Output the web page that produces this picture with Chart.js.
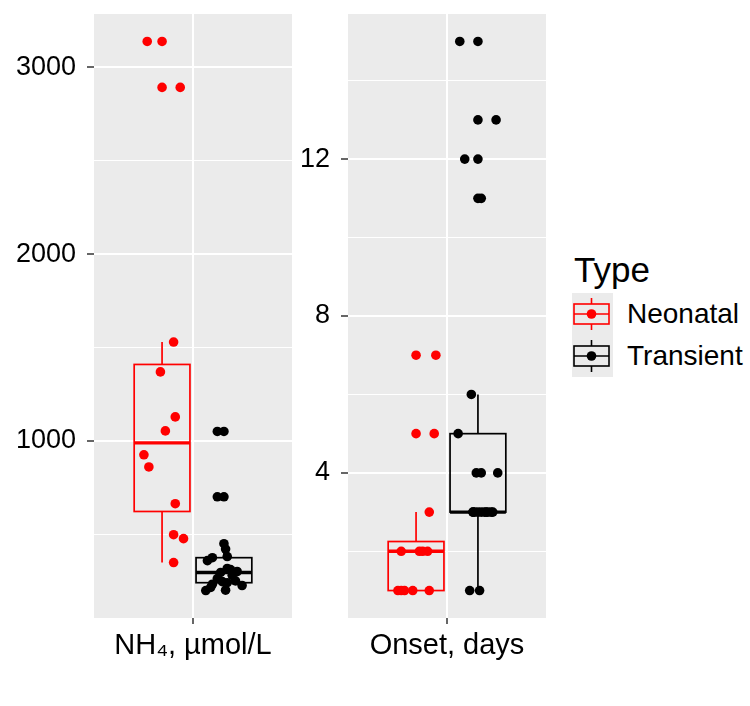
<!DOCTYPE html>
<html lang="en">
<head>
<meta charset="UTF-8">
<title>NH4 and onset by type</title>
<script src="https://cdn.jsdelivr.net/npm/chart.js"></script>
<style>
  html, body { margin: 0; padding: 0; background: #fff; }
  body { width: 750px; height: 706px; position: relative; overflow: hidden;
         font-family: "Liberation Sans", Arial, sans-serif; }
  #leftChart { position: absolute; left: 0; top: 0; }
  #rightChart { position: absolute; left: 300px; top: 0; }
  .legend { position: absolute; left: 572px; top: 252px; color: #000; }
  .legend-title { font-size: 35px; line-height: 1; margin: 0 0 6px 2px; }
  .legend-row { display: flex; align-items: center; height: 42px; }
  .legend-key { width: 41px; height: 42px; background: #EBEBEB; }
  .legend-label { font-size: 28px; margin-left: 14px; }
</style>
</head>
<body>
<canvas id="leftChart" width="300" height="706"></canvas>
<canvas id="rightChart" width="260" height="706"></canvas>
<div class="legend" id="legend"></div>

<script>
// groups
const types = ['Neonatal', 'Transient'];
const typeColors = ['#FF0000', '#000000'];

// NH4, µmol/L
const nh4Neonatal = [3139, 2893, 1529, 1369, 1128, 1053, 925, 860, 663, 497, 476, 348];
const nh4Transient = [1050, 700, 449, 420, 380, 374, 358, 316, 310, 300, 295, 280, 262, 250, 246, 240, 232, 225, 215, 200, 198];

// Onset, days
const onsetNeonatal = [7, 5, 3, 2, 2, 2, 2, 1, 1, 1, 1, 1];
const onsetTransient = [15, 13, 12, 11, 6, 5, 4, 4, 4, 3, 3, 3, 3, 3, 3, 3, 3, 3, 3, 1, 1];

// horizontal jitter of each point
const nh4NeonatalJitter = [-0.09, 0.11, 0.07, -0.01, 0.08, 0.02, -0.11, -0.08, 0.08, 0.07, 0.13, 0.07];
const nh4TransientJitter = [-0.04, -0.04, 0, 0.01, 0.02, -0.07, -0.10, 0.02, 0.04, 0.08, -0.02, 0.05, -0.04, 0.07, -0.01, 0.02, -0.07, 0.11, -0.08, 0.01, -0.11];
const onsetNeonatalJitter = [0.12, 0.11, 0.08, -0.09, 0.02, 0.04, 0.07, -0.11, -0.09, -0.07, -0.02, 0.08];
const onsetTransientJitter = [-0.11, 0.11, -0.08, 0.02, -0.04, -0.12, -0.01, 0.02, 0.12, -0.03, -0.02, 0, 0.02, 0.04, 0.06, 0.08, 0.09, -0.03, 0.05, -0.05, 0.01];

// ticks
const nh4Ticks = [500, 1000, 1500, 2000, 2500, 3000];
const nh4Labels = [1000, 2000, 3000];
const onsetTicks = [2, 4, 6, 8, 10, 12, 14];
const onsetLabels = [4, 8, 12];

const FONT = '"Liberation Sans", Arial, sans-serif';
const boxCenters = [-0.1875, 0.1875];
const boxHalf = 0.169;

// boxplot stats, ggplot style (type 7 quantiles, 1.5 IQR whiskers)
function boxStats(values) {
  const s = [...values].sort((a, b) => a - b);
  const q = p => {
    const h = (s.length - 1) * p, lo = Math.floor(h);
    const hi = Math.min(lo + 1, s.length - 1);
    return s[lo] + (h - lo) * (s[hi] - s[lo]);
  };
  const q1 = q(0.25), med = q(0.5), q3 = q(0.75), iqr = q3 - q1;
  const inside = s.filter(v => v >= q1 - 1.5 * iqr && v <= q3 + 1.5 * iqr);
  return {
    q1, med, q3,
    lo: inside[0], hi: inside[inside.length - 1],
    out: s.filter(v => v < q1 - 1.5 * iqr || v > q3 + 1.5 * iqr)
  };
}

function makePanel(canvasId, axisWidth, padRight, xLabel, groups, ticks, labels) {
  const all = groups.flatMap(g => g.values);
  const lo = Math.min(...all), hi = Math.max(...all), pad = (hi - lo) * 0.05;
  const stats = groups.map(g => boxStats(g.values));

  const datasets = [];
  groups.forEach((g, i) => {
    datasets.push({
      label: types[i],
      data: g.values.map((v, k) => ({ x: boxCenters[i] + g.jitter[k], y: v })),
      backgroundColor: typeColors[i], borderWidth: 0, pointRadius: 4.8, pointHoverRadius: 4.8
    });
    // boxplot outliers, drawn at the box centre
    datasets.push({
      label: types[i] + ' outliers',
      data: stats[i].out.map(v => ({ x: boxCenters[i], y: v })),
      backgroundColor: typeColors[i], borderWidth: 0, pointRadius: 4.8, pointHoverRadius: 4.8
    });
  });

  const panelPlugin = {
    id: 'panel',
    beforeDraw(chart) {
      const a = chart.chartArea, ctx = chart.ctx;
      ctx.save();
      ctx.fillStyle = '#EBEBEB';
      ctx.fillRect(a.left, a.top, a.right - a.left, a.bottom - a.top);
      ctx.restore();
    },
    beforeDatasetsDraw(chart) {
      const { ctx, scales: { x, y } } = chart;
      ctx.save();
      stats.forEach((st, i) => {
        const cx = x.getPixelForValue(boxCenters[i]);
        const l = x.getPixelForValue(boxCenters[i] - boxHalf);
        const r = x.getPixelForValue(boxCenters[i] + boxHalf);
        ctx.strokeStyle = typeColors[i];
        ctx.lineWidth = 1.7;
        ctx.beginPath();
        ctx.moveTo(cx, y.getPixelForValue(st.q3)); ctx.lineTo(cx, y.getPixelForValue(st.hi));
        ctx.moveTo(cx, y.getPixelForValue(st.q1)); ctx.lineTo(cx, y.getPixelForValue(st.lo));
        ctx.stroke();
        const top = y.getPixelForValue(st.q3), bot = y.getPixelForValue(st.q1);
        ctx.strokeRect(l, top, r - l, bot - top);
        ctx.lineWidth = 3.4;
        ctx.beginPath();
        const m = y.getPixelForValue(st.med);
        ctx.moveTo(l, m); ctx.lineTo(r, m);
        ctx.stroke();
      });
      ctx.restore();
    }
  };

  return new Chart(document.getElementById(canvasId), {
    type: 'scatter',
    data: { datasets },
    options: {
      responsive: false,
      animation: false,
      devicePixelRatio: 1,
      layout: { padding: { top: 14, right: padRight, left: 0, bottom: 0 } },
      plugins: { legend: { display: false }, tooltip: { enabled: false } },
      scales: {
        x: {
          type: 'linear', min: -0.6, max: 0.6,
          afterBuildTicks: s => { s.ticks = [{ value: 0 }]; },
          afterFit: s => { s.height = 88; s.paddingLeft = 0; s.paddingRight = 0; },
          ticks: { callback: () => xLabel, color: '#000', padding: 5, maxRotation: 0,
                   font: { family: FONT, size: 29 } },
          grid: { color: '#FFFFFF', lineWidth: 2, tickColor: '#333333', tickLength: 6, tickWidth: 1.5 },
          border: { display: false }
        },
        y: {
          min: lo - pad, max: hi + pad,
          afterBuildTicks: s => { s.ticks = ticks.map(v => ({ value: v })); },
          afterFit: s => { s.width = axisWidth; s.paddingTop = 0; s.paddingBottom = 0; },
          ticks: { callback: v => labels.includes(v) ? String(v) : '', color: '#000', padding: 11,
                   font: { family: FONT, size: 27 } },
          grid: {
            color: '#FFFFFF',
            lineWidth: c => labels.includes(c.tick.value) ? 2 : 1,
            tickColor: c => labels.includes(c.tick.value) ? '#333333' : 'rgba(0,0,0,0)',
            tickLength: 7, tickWidth: 1.5
          },
          border: { display: false }
        }
      }
    },
    plugins: [panelPlugin]
  });
}

makePanel('leftChart', 94, 8, 'NH\u2084, \u00b5mol/L', [
  { values: nh4Neonatal, jitter: nh4NeonatalJitter },
  { values: nh4Transient, jitter: nh4TransientJitter }
], nh4Ticks, nh4Labels);

makePanel('rightChart', 48, 14, 'Onset, days', [
  { values: onsetNeonatal, jitter: onsetNeonatalJitter },
  { values: onsetTransient, jitter: onsetTransientJitter }
], onsetTicks, onsetLabels);

// legend
const legend = document.getElementById('legend');
legend.innerHTML = '<div class="legend-title">Type</div>' + types.map((t, i) => {
  const c = typeColors[i];
  const key = '<svg class="legend-key" width="41" height="42" viewBox="0 0 41 42">' +
    '<line x1="19.5" y1="5" x2="19.5" y2="37" stroke="' + c + '" stroke-width="1.6"/>' +
    '<rect x="2" y="11" width="35" height="20" fill="#EBEBEB" stroke="' + c + '" stroke-width="1.6"/>' +
    '<line x1="2" y1="21" x2="37" y2="21" stroke="' + c + '" stroke-width="1.6"/>' +
    '<circle cx="19.5" cy="21" r="4.8" fill="' + c + '"/></svg>';
  return '<div class="legend-row">' + key + '<span class="legend-label">' + t + '</span></div>';
}).join('');
</script>
</body>
</html>
